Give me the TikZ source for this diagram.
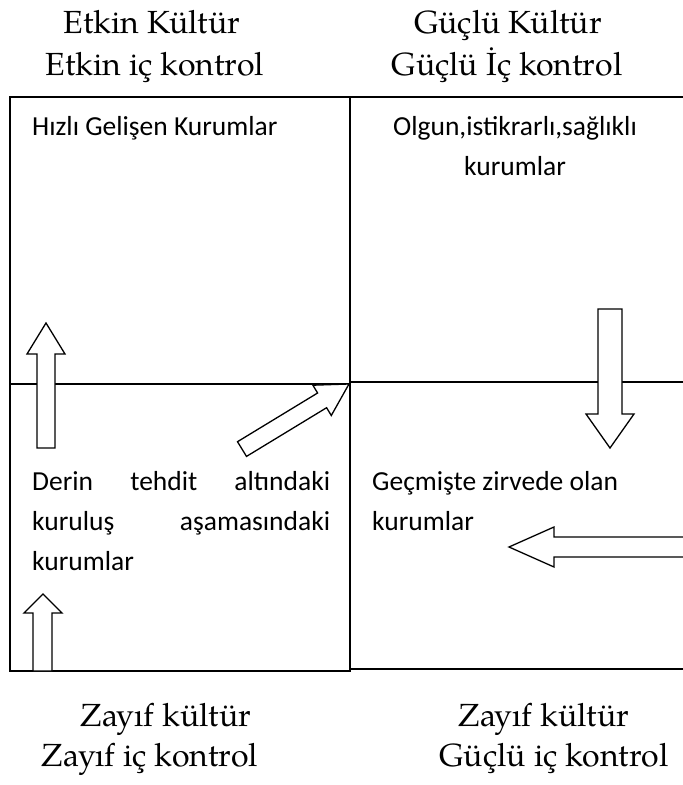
\documentclass[tikz,border=0pt]{standalone}
\usepackage{fontspec}
\setmainfont{Carlito}
\newfontfamily\headfont{texgyrepagella-regular.otf}
\begin{document}
\begin{tikzpicture}[x=1pt,y=-1pt]
\tikzset{
  gridline/.style={draw=black, line width=1.4pt},
  blockarrow/.style={draw=black, line width=1.3pt, fill=white, line join=miter},
  headtxt/.style={font=\headfont\fontsize{32}{40}\selectfont, anchor=base, inner sep=0pt},
  bodytxt/.style={font=\fontsize{27.5}{40}\selectfont, anchor=base west, inner sep=0pt},
  bodyc/.style={font=\fontsize{27.5}{40}\selectfont, anchor=base, inner sep=0pt},
}
\fill[white] (0,0) rectangle (683,785);
\useasboundingbox (0,0) rectangle (683,785);

% grid
\draw[gridline] (10,97) rectangle (350,671);
\draw[gridline] (350,97) -- (683,97);
\draw[gridline] (350,669) -- (683,669);
\draw[gridline] (10,384) -- (350,384);
\draw[gridline] (350,382) -- (683,382);

% block arrows
\draw[blockarrow] (37,448) -- (37,354) -- (27,354) -- (46,323) -- (65,354) -- (55,354) -- (55,448) -- cycle;
\draw[blockarrow] (237.5,441.7) -- (317.6,393.0) -- (312.9,385.2) -- (349,384) -- (331.3,415.5) -- (326.6,407.7) -- (246.5,456.4) -- cycle;
\draw[blockarrow] (598,309) -- (622,309) -- (622,414) -- (634,414) -- (610,448) -- (586,414) -- (598,414) -- cycle;
\fill[white] (554,537) rectangle (690,557);
\draw[blockarrow] (690,537) -- (554,537) -- (554,527) -- (509,547) -- (554,567) -- (554,557) -- (690,557);
\draw[blockarrow] (33,671) -- (33,613) -- (24,613) -- (43,594) -- (62,613) -- (52,613) -- (52,671) -- cycle;

% headers
\node[headtxt] (h1a) at (152,33) {Etkin Kültür};
\node[headtxt] (h1b) at (155,75) {Etkin iç kontrol};
\node[headtxt] (h2a) at (508,33) {Güçlü Kültür};
\node[headtxt] (h2b) at (507,75) {Güçlü İç kontrol};
\node[headtxt] (f1a) at (166,726) {Zayıf kültür};
\node[headtxt] (f1b) at (150,766) {Zayıf iç kontrol};
\node[headtxt] (f2a) at (544,726) {Zayıf kültür};
\node[headtxt] (f2b) at (554,766) {Güçlü iç kontrol};

% cell texts
\node[bodytxt] (q1) at (32,135) {Hızlı Gelişen Kurumlar};
\node[bodyc] (q2a) at (515,135) {Olgun,istikrarlı,sağlıklı};
\node[bodyc] (q2b) at (515,175) {kurumlar};
\node[bodytxt] (q3a) at (32,490) {\hbox to 298pt{Derin\hfill tehdit\hfill altındaki}};
\node[bodytxt] (q3b) at (32,530) {\hbox to 298pt{kuruluş\hfill aşamasındaki}};
\node[bodytxt] (q3c) at (32,570) {kurumlar};
\node[bodytxt] (q4a) at (372,490) {Geçmişte zirvede olan};
\node[bodytxt] (q4b) at (372,530) {kurumlar};
\end{tikzpicture}
\end{document}
